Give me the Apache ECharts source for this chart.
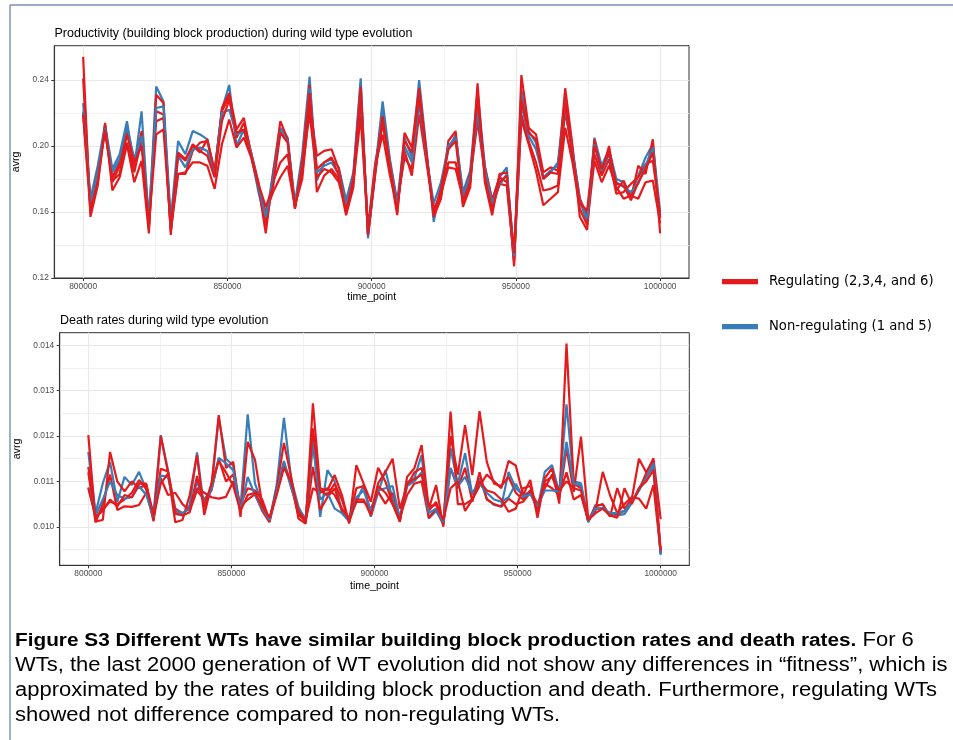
<!DOCTYPE html>
<html>
<head>
<meta charset="utf-8">
<script src="https://cdn.jsdelivr.net/npm/echarts@6/dist/echarts.min.js"></script>
<style>
  html, body { margin: 0; padding: 0; background: #fff; }
  #chart { width: 953px; height: 740px; }
</style>
</head>
<body>
<div id="chart"></div>
<script>
// Sampled time points (generations) of the last stretch of wild type evolution
const timePoints = [
  800000, 802532, 805063, 807595, 810127, 812658, 815190, 817722, 820253, 822785,
  825316, 827848, 830380, 832911, 835443, 837975, 840506, 843038, 845570, 848101,
  850633, 853165, 855696, 858228, 860759, 863291, 865823, 868354, 870886, 873418,
  875949, 878481, 881013, 883544, 886076, 888608, 891139, 893671, 896203, 898734,
  901266, 903797, 906329, 908861, 911392, 913924, 916456, 918987, 921519, 924051,
  926582, 929114, 931646, 934177, 936709, 939241, 941772, 944304, 946835, 949367,
  951899, 954430, 956962, 959494, 962025, 964557, 967089, 969620, 972152, 974684,
  977215, 979747, 982278, 984810, 987342, 989873, 992405, 994937, 997468, 1000000
];

// Average building block production per WT
const prodWT1 = [
  .226,.168,.188,.213,.186,.195,.215,.187,.221,.153,
  .236,.227,.155,.203,.195,.209,.207,.204,.184,.222,
  .237,.200,.210,.195,.172,.154,.184,.211,.205,.165,
  .195,.242,.179,.190,.192,.187,.167,.184,.241,.144,
  .186,.227,.192,.166,.205,.193,.240,.198,.154,.176,
  .198,.207,.172,.185,.233,.188,.167,.181,.187,.131,
  .234,.209,.202,.180,.184,.190,.229,.198,.168,.153,
  .205,.188,.198,.180,.178,.170,.182,.193,.201,.160
];
const prodWT2 = [
  .254,.157,.176,.214,.173,.181,.201,.178,.191,.147,
  .231,.226,.146,.196,.192,.200,.196,.204,.183,.223,
  .232,.210,.217,.195,.176,.147,.183,.215,.204,.162,
  .192,.237,.172,.182,.186,.180,.158,.175,.233,.147,
  .185,.221,.185,.158,.208,.199,.235,.196,.157,.168,
  .203,.209,.163,.175,.238,.178,.158,.183,.184,.127,
  .243,.211,.207,.184,.187,.185,.235,.200,.157,.149,
  .204,.183,.200,.173,.179,.168,.188,.183,.204,.147
];
const prodWT3 = [
  .241,.162,.180,.212,.179,.183,.210,.186,.209,.150,
  .221,.219,.148,.183,.184,.190,.190,.188,.174,.201,
  .216,.199,.205,.193,.175,.160,.172,.181,.188,.163,
  .185,.220,.181,.186,.184,.178,.162,.178,.218,.148,
  .188,.207,.182,.163,.197,.182,.219,.190,.160,.172,
  .187,.186,.168,.180,.215,.183,.163,.177,.176,.130,
  .216,.201,.185,.164,.168,.172,.211,.190,.162,.152,
  .191,.178,.188,.175,.168,.170,.168,.178,.179,.153
];
const prodWT4 = [
  .220,.165,.185,.208,.181,.190,.202,.184,.204,.155,
  .215,.217,.152,.183,.183,.197,.202,.203,.185,.221,
  .230,.205,.214,.196,.178,.152,.178,.190,.195,.164,
  .180,.226,.194,.197,.198,.186,.164,.182,.228,.150,
  .190,.213,.190,.165,.193,.186,.228,.193,.162,.170,
  .190,.190,.170,.183,.225,.187,.167,.181,.178,.132,
  .219,.203,.190,.173,.174,.176,.221,.196,.168,.158,
  .195,.182,.192,.171,.172,.177,.181,.189,.191,.158
];
const prodWT5 = [
  .221,.166,.184,.211,.184,.192,.212,.192,.206,.157,
  .223,.224,.150,.194,.187,.198,.199,.197,.181,.220,
  .222,.207,.209,.196,.176,.157,.180,.209,.203,.164,
  .190,.235,.184,.188,.190,.183,.165,.181,.238,.146,
  .184,.222,.190,.164,.200,.190,.226,.194,.165,.178,
  .200,.205,.170,.182,.221,.185,.165,.176,.183,.133,
  .225,.206,.198,.181,.185,.188,.223,.195,.166,.156,
  .201,.185,.195,.178,.175,.172,.177,.188,.199,.157
];
const prodWT6 = [
  .219,.160,.178,.210,.178,.188,.207,.190,.200,.152,
  .207,.210,.150,.195,.191,.201,.197,.194,.181,.215,
  .228,.208,.210,.194,.177,.163,.175,.208,.202,.162,
  .188,.232,.186,.190,.193,.182,.160,.180,.236,.146,
  .183,.218,.188,.160,.203,.196,.230,.195,.159,.174,
  .198,.203,.165,.178,.230,.181,.161,.178,.182,.135,
  .228,.208,.204,.180,.184,.183,.226,.193,.165,.161,
  .200,.186,.196,.177,.176,.167,.178,.186,.196,.156
];

// Average death rate per WT
const deathWT1 = [
  .01165,.01030,.01096,.01143,.01055,.01110,.01092,.01121,.01082,.01030,
  .01202,.01124,.01028,.01026,.01048,.01164,.01040,.01085,.01240,.01150,
  .01135,.01040,.01248,.01095,.01052,.01012,.01092,.01240,.01105,.01044,
  .01012,.01200,.01022,.01125,.01100,.01035,.01015,.01055,.01092,.01022,
  .01075,.01125,.01060,.01012,.01098,.01107,.01158,.01018,.01035,.01007,
  .01173,.01095,.01162,.01070,.01107,.01062,.01048,.01045,.01121,.01085,
  .01070,.01077,.01040,.01121,.01136,.01075,.01270,.01100,.01096,.01010,
  .01048,.01048,.01025,.01025,.01028,.01052,.01085,.01110,.01132,.00938
];
const deathWT2 = [
  .01202,.01012,.01015,.01165,.01100,.01078,.01100,.01085,.01093,.01012,
  .01200,.01120,.01010,.01015,.01070,.01158,.01026,.01092,.01246,.01130,
  .01143,.01022,.01187,.01148,.01050,.01012,.01085,.01185,.01110,.01018,
  .01007,.01272,.01085,.01080,.01114,.01070,.01007,.01136,.01095,.01055,
  .01130,.01100,.01050,.01011,.01110,.01129,.01180,.01040,.01092,.01000,
  .01254,.01050,.01050,.01060,.01090,.01115,.01100,.01085,.01145,.01135,
  .01070,.01103,.01020,.01107,.01129,.01051,.01404,.01095,.01085,.01012,
  .01040,.01040,.01030,.01028,.01035,.01055,.01080,.01118,.01151,.01017
];
const deathWT3 = [
  .01132,.01018,.01040,.01055,.01050,.01060,.01075,.01103,.01083,.01020,
  .01128,.01122,.01040,.01030,.01040,.01085,.01075,.01065,.01062,.01066,
  .01100,.01050,.01085,.01080,.01060,.01015,.01080,.01142,.01095,.01030,
  .01010,.01132,.01037,.01065,.01085,.01035,.01015,.01085,.01090,.01030,
  .01096,.01120,.01150,.01040,.01090,.01120,.01130,.01035,.01055,.01010,
  .01200,.01115,.01224,.01114,.01255,.01143,.01095,.01090,.01110,.01075,
  .01060,.01080,.01050,.01085,.01115,.01062,.01173,.01077,.01199,.01018,
  .01035,.01121,.01070,.01030,.01050,.01065,.01062,.01040,.01092,.00942
];
const deathWT4 = [
  .01120,.01010,.01050,.01115,.01037,.01045,.01044,.01048,.01075,.01015,
  .01107,.01070,.01075,.01050,.01035,.01080,.01060,.01080,.01150,.01100,
  .01115,.01045,.01060,.01072,.01035,.01010,.01075,.01138,.01090,.01025,
  .01015,.01085,.01075,.01085,.01070,.01040,.01020,.01055,.01055,.01040,
  .01077,.01051,.01075,.01020,.01070,.01095,.01100,.01020,.01040,.01005,
  .01129,.01085,.01130,.01055,.01120,.01060,.01050,.01044,.01062,.01050,
  .01055,.01075,.01040,.01095,.01085,.01070,.01120,.01060,.01070,.01012,
  .01045,.01050,.01022,.01085,.01040,.01060,.01150,.01120,.01145,.00945
];
const deathWT5 = [
  .01087,.01025,.01060,.01100,.01070,.01062,.01065,.01090,.01070,.01022,
  .01113,.01110,.01035,.01030,.01040,.01100,.01055,.01082,.01152,.01140,
  .01125,.01035,.01110,.01070,.01040,.01015,.01078,.01145,.01085,.01040,
  .01018,.01180,.01060,.01075,.01040,.01030,.01012,.01065,.01080,.01035,
  .01080,.01085,.01090,.01018,.01090,.01100,.01120,.01030,.01040,.01010,
  .01130,.01090,.01110,.01075,.01095,.01075,.01060,.01055,.01065,.01095,
  .01065,.01072,.01045,.01080,.01080,.01078,.01187,.01095,.01092,.01012,
  .01040,.01042,.01030,.01030,.01035,.01055,.01080,.01107,.01140,.00940
];
const deathWT6 = [
  .01085,.01022,.01035,.01060,.01045,.01070,.01065,.01095,.01095,.01025,
  .01095,.01118,.01030,.01025,.01032,.01112,.01045,.01095,.01145,.01120,
  .01090,.01035,.01070,.01075,.01045,.01020,.01070,.01130,.01100,.01035,
  .01012,.01217,.01080,.01070,.01095,.01060,.01010,.01060,.01060,.01025,
  .01090,.01075,.01050,.01015,.01095,.01105,.01115,.01045,.01048,.01015,
  .01085,.01100,.01035,.01060,.01100,.01080,.01075,.01060,.01033,.01040,
  .01085,.01090,.01030,.01100,.01110,.01080,.01100,.01085,.01080,.01015,
  .01030,.01040,.01025,.01020,.01085,.01050,.01085,.01100,.01125,.00948
];

// Axis breaks
const xTicks = [800000, 850000, 900000, 950000, 1000000];
const xMinor = [825000, 875000, 925000, 975000];
const prodTicks = [0.12, 0.16, 0.20, 0.24];
const prodMinor = [0.14, 0.18, 0.22];
const deathTicks = [0.010, 0.011, 0.012, 0.013, 0.014];
const deathMinor = [0.0095, 0.0105, 0.0115, 0.0125, 0.0135];

const REG = 'Regulating (2,3,4, and 6)';
const NONREG = 'Non-regulating (1 and 5)';
const RED = '#E41A1C';
const BLUE = '#377EB8';

// WT order 1..6; 2,3,4,6 regulate, 1 and 5 do not
const wts = [
  { prod: prodWT1, death: deathWT1, group: NONREG },
  { prod: prodWT2, death: deathWT2, group: REG },
  { prod: prodWT3, death: deathWT3, group: REG },
  { prod: prodWT4, death: deathWT4, group: REG },
  { prod: prodWT5, death: deathWT5, group: NONREG },
  { prod: prodWT6, death: deathWT6, group: REG }
];

const FONT = "'Liberation Sans', Arial, Helvetica, sans-serif";

function pairs(vals) { return timePoints.map((t, i) => [t, vals[i]]); }

function mainX(gridIndex) {
  return {
    type: 'value', gridIndex, min: 790000, max: 1010000, position: 'bottom',
    name: 'time_point', nameLocation: 'middle', nameGap: gridIndex === 0 ? 14 : 15.5,
    nameTextStyle: { fontFamily: FONT, fontSize: 10.6, color: '#000' },
    axisLine: { show: true, onZero: false, lineStyle: { color: '#333', width: 1.1 } },
    axisTick: { show: true, length: 3, customValues: xTicks, lineStyle: { color: '#333' } },
    axisLabel: { customValues: xTicks, margin: 4.5, fontFamily: FONT, fontSize: 8.4, color: '#4d4d4d',
                 formatter: v => String(v) },
    splitLine: { show: true, lineStyle: { color: '#e9e9e9', width: 1.2 } }
  };
}
function minorX(gridIndex) {
  return {
    type: 'value', gridIndex, min: 790000, max: 1010000, position: 'bottom',
    axisLine: { show: false }, axisLabel: { show: false },
    axisTick: { show: false, customValues: xMinor },
    splitLine: { show: true, lineStyle: { color: '#efefef', width: 0.9 } }
  };
}
function mainY(gridIndex, min, max, ticks, digits, gap) {
  return {
    type: 'value', gridIndex, min, max, position: 'left',
    name: 'avrg', nameLocation: 'middle', nameRotate: 90, nameGap: gap,
    nameTextStyle: { fontFamily: FONT, fontSize: 10.6, color: '#000' },
    axisLine: { show: true, onZero: false, lineStyle: { color: '#333', width: 1.1 } },
    axisTick: { show: true, length: 3, customValues: ticks, lineStyle: { color: '#333' } },
    axisLabel: { customValues: ticks, margin: 5.5, fontFamily: FONT, fontSize: 8.4, color: '#4d4d4d',
                 formatter: v => v.toFixed(digits) },
    splitLine: { show: true, lineStyle: { color: '#e9e9e9', width: 1.2 } }
  };
}
function minorY(gridIndex, min, max, minor) {
  return {
    type: 'value', gridIndex, min, max, position: 'left',
    axisLine: { show: false }, axisLabel: { show: false },
    axisTick: { show: false, customValues: minor },
    splitLine: { show: true, lineStyle: { color: '#efefef', width: 0.9 } }
  };
}

const series = [];
wts.forEach(w => {
  const color = w.group === REG ? RED : BLUE;
  series.push({
    type: 'line', name: w.group, xAxisIndex: 0, yAxisIndex: 0,
    data: pairs(w.prod), showSymbol: false, symbol: 'none',
    lineStyle: { color, width: 2.2 }, itemStyle: { color }, z: 3
  });
  series.push({
    type: 'line', name: w.group, xAxisIndex: 2, yAxisIndex: 2,
    data: pairs(w.death), showSymbol: false, symbol: 'none',
    lineStyle: { color, width: 2.2 }, itemStyle: { color }, z: 3
  });
});

// Caption: slightly widened glyphs to mimic the typeset sans face
const captionStyle = { fontFamily: FONT, fontSize: 20, fill: '#000', verticalAlign: 'middle' };
const captionLines = [
  '{b|Figure S3 Different WTs have similar building block production rates and death rates.} For 6',
  'WTs, the last 2000 generation of WT evolution did not show any differences in \u201cfitness\u201d, which is',
  'approximated by the rates of building block production and death. Furthermore, regulating WTs',
  'showed not difference compared to non-regulating WTs.'
];
const captionY = [640.5, 665.5, 690.5, 715];

const graphic = [
  // page frame
  { type: 'line', shape: { x1: 10, y1: 5, x2: 953, y2: 5 }, style: { stroke: '#7b8db4', lineWidth: 1.4 } },
  { type: 'line', shape: { x1: 10, y1: 5, x2: 10, y2: 740 }, style: { stroke: '#7b8db4', lineWidth: 1.4 } },
  // panel titles
  { type: 'text', x: 54.5, y: 33.3, style: { text: 'Productivity (building block production) during wild type evolution',
      fontFamily: FONT, fontSize: 12.5, fill: '#000', verticalAlign: 'middle' } },
  { type: 'text', x: 60, y: 320.7, style: { text: 'Death rates during wild type evolution',
      fontFamily: FONT, fontSize: 12.5, fill: '#000', verticalAlign: 'middle' } },
  // legend
  { type: 'rect', shape: { x: 722, y: 279, width: 36, height: 5.3 }, style: { fill: RED } },
  { type: 'text', x: 769, y: 281.7, style: { text: REG, fontFamily: "'DejaVu Sans', sans-serif", fontSize: 13.2,
      fill: '#000', verticalAlign: 'middle' } },
  { type: 'rect', shape: { x: 722, y: 324, width: 36, height: 5.3 }, style: { fill: BLUE } },
  { type: 'text', x: 769, y: 326.7, style: { text: NONREG, fontFamily: "'DejaVu Sans', sans-serif", fontSize: 13.2,
      fill: '#000', verticalAlign: 'middle' } }
];
captionLines.forEach((line, i) => {
  graphic.push({
    type: 'text', x: 15, y: captionY[i], scaleX: 1.1, scaleY: 1,
    style: Object.assign({ text: line, rich: { b: { fontFamily: FONT, fontSize: 18.9, fontWeight: 'bold', fill: '#000' } } },
                         captionStyle)
  });
});

const chart = echarts.init(document.getElementById('chart'), null, { renderer: 'canvas' });
chart.setOption({
  animation: false,
  backgroundColor: '#fff',
  grid: [
    { left: 54.3, top: 45.7, width: 634.7, height: 232.3, show: true, borderColor: '#333', borderWidth: 1, backgroundColor: '#fff' },
    { left: 59.7, top: 332.7, width: 629.6, height: 232.6, show: true, borderColor: '#333', borderWidth: 1, backgroundColor: '#fff' }
  ],
  xAxis: [mainX(0), minorX(0), mainX(1), minorX(1)],
  yAxis: [
    mainY(0, 0.1199, 0.2608, prodTicks, 2, 23.5),
    minorY(0, 0.1199, 0.2608, prodMinor),
    mainY(1, 0.00915, 0.01428, deathTicks, 3, 29),
    minorY(1, 0.00915, 0.01428, deathMinor)
  ],
  series,
  graphic
});
</script>
</body>
</html>
